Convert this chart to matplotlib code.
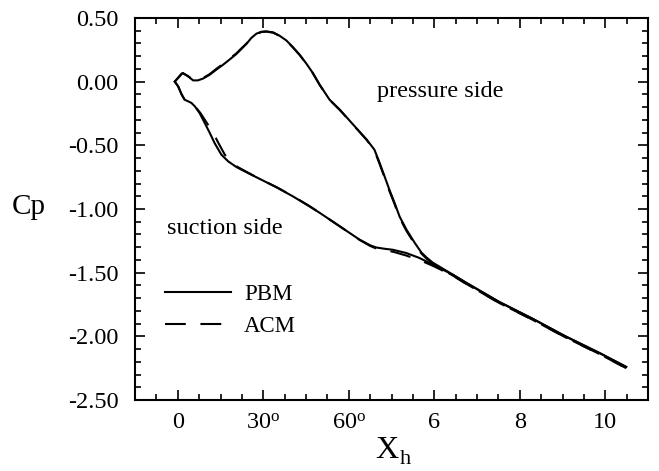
import matplotlib
matplotlib.use("Agg")
import matplotlib.pyplot as plt
from matplotlib.ticker import MultipleLocator, FixedLocator

# ---- data ----
pbm_pressure_x = [-0.07, 0.09, 0.12, 0.24, 0.36, 0.47, 0.59, 0.75, 0.90, 1.06, 1.21, 1.37,
                  1.49, 1.61, 1.72, 1.84, 1.96, 2.07, 2.23, 2.38, 2.54, 2.69, 2.85, 3.01,
                  3.16, 3.32, 3.55, 3.79, 4.02, 4.25, 4.42, 4.60, 4.72, 4.84, 4.95, 5.07,
                  5.19, 5.35, 5.54, 5.70, 5.82, 5.96, 6.43, 6.75, 7.52, 8.29, 9.07, 9.86, 10.49]
pbm_pressure_y = [0.00, 0.063, 0.068, 0.042, 0.010, 0.010, 0.024, 0.055, 0.094, 0.133, 0.173, 0.217,
                  0.257, 0.298, 0.343, 0.377, 0.392, 0.395, 0.387, 0.361, 0.324, 0.272, 0.212, 0.141,
                  0.068, -0.024, -0.141, -0.220, -0.306, -0.392, -0.455, -0.534, -0.636, -0.746, -0.848, -0.950,
                  -1.060, -1.162, -1.264, -1.342, -1.381, -1.420, -1.515, -1.58, -1.73, -1.86, -2.00, -2.13, -2.24]

pbm_suction_x = [-0.07, 0.01, 0.09, 0.16, 0.32, 0.40, 0.51, 0.63, 0.75, 0.86, 1.02, 1.18,
                 1.37, 1.61, 1.92, 2.31, 2.69, 3.08, 3.32, 3.79, 4.25, 4.50, 4.64, 4.85, 5.03, 5.34,
                 5.65, 5.96, 6.43, 6.75, 7.52, 8.29, 9.07, 9.86, 10.49]
pbm_suction_y = [0.00, -0.037, -0.100, -0.141, -0.167, -0.194, -0.246, -0.324, -0.403, -0.481, -0.573, -0.626,
                 -0.670, -0.712, -0.764, -0.830, -0.900, -0.979, -1.030, -1.136, -1.240, -1.285, -1.302, -1.313, -1.320, -1.345,
                 -1.384, -1.436, -1.515, -1.58, -1.73, -1.86, -2.00, -2.13, -2.24]

acm_pressure_x = pbm_pressure_x
acm_pressure_y = [0.00, 0.060, 0.066, 0.044, 0.014, 0.013, 0.028, 0.060, 0.100, 0.140, 0.180, 0.222,
                  0.262, 0.300, 0.343, 0.375, 0.390, 0.393, 0.385, 0.360, 0.323, 0.270, 0.210, 0.140,
                  0.066, -0.026, -0.143, -0.222, -0.308, -0.394, -0.458, -0.540, -0.645, -0.755, -0.858, -0.960,
                  -1.070, -1.172, -1.274, -1.350, -1.390, -1.428, -1.522, -1.588, -1.738, -1.868, -2.008, -2.138, -2.25]

acm_suction_x = [-0.07, 0.01, 0.09, 0.16, 0.32, 0.40, 0.53, 0.68, 0.83, 0.95, 1.10, 1.24,
                 1.40, 1.63, 1.92, 2.31, 2.69, 3.08, 3.32, 3.79, 4.25, 4.50, 4.64, 4.85, 5.03, 5.34,
                 5.65, 5.96, 6.43, 6.75, 7.52, 8.29, 9.07, 9.86, 10.49]
acm_suction_y = [0.00, -0.037, -0.100, -0.141, -0.167, -0.194, -0.246, -0.324, -0.403, -0.481, -0.573, -0.626,
                 -0.670, -0.712, -0.764, -0.828, -0.898, -0.977, -1.030, -1.136, -1.242, -1.290, -1.310, -1.325, -1.335, -1.365,
                 -1.400, -1.445, -1.522, -1.588, -1.738, -1.868, -2.008, -2.138, -2.25]

xtick_pos = [0, 2, 4, 6, 8, 10]
xtick_labels = ["0", r"30$^{\rm o}$", r"60$^{\rm o}$", "6", "8", "10"]
ytick_pos = [0.5, 0.0, -0.5, -1.0, -1.5, -2.0, -2.5]
ytick_labels = ["0.50", "0.00", "-0.50", "-1.00", "-1.50", "-2.00", "-2.50"]

# ---- figure ----
plt.rcParams['font.family'] = ['Liberation Serif', 'DejaVu Serif']
plt.rcParams['mathtext.fontset'] = 'custom'
plt.rcParams['mathtext.rm'] = 'Liberation Serif'
plt.rcParams['mathtext.it'] = 'Liberation Serif:italic'
plt.rcParams['mathtext.bf'] = 'Liberation Serif:bold'

fig = plt.figure(figsize=(6.59, 4.71), dpi=100)
ax = fig.add_axes([135/659, 1-400/471, (648-135)/659, (400-18)/471])

lw = 1.5
dash = (0, (10, 7))
ax.plot(pbm_pressure_x, pbm_pressure_y, color='black', lw=lw, label='PBM')
ax.plot(pbm_suction_x, pbm_suction_y, color='black', lw=lw)
ax.plot(acm_pressure_x, acm_pressure_y, color='black', lw=lw, ls=dash, label='ACM')
ax.plot(acm_suction_x, acm_suction_y, color='black', lw=lw, ls=dash)

ax.set_xlim(-1, 11)
ax.set_ylim(-2.5, 0.5)

ax.xaxis.set_major_locator(FixedLocator(xtick_pos))
ax.set_xticklabels(xtick_labels)
ax.yaxis.set_major_locator(FixedLocator(ytick_pos))
ax.set_yticklabels(ytick_labels)
ax.xaxis.set_minor_locator(MultipleLocator(0.5))
ax.yaxis.set_minor_locator(MultipleLocator(0.1))

ax.tick_params(which='both', direction='in', top=True, right=True, labelsize=17.5, width=1.2)
ax.tick_params(which='major', length=7)
ax.tick_params(which='minor', length=4)
ax.tick_params(axis='y', which='major', pad=12)
ax.tick_params(axis='x', which='major', pad=9)

for sp in ax.spines.values():
    sp.set_linewidth(1.5)

fig.text(29/659, 1-207/471, 'Cp', fontsize=21, ha='center', va='center')
fig.text(387/659, 1-450/471, 'X', fontsize=23, ha='center', va='center')
fig.text(405/659, 1-459/471, 'h', fontsize=16, ha='center', va='center')

ax.text(6.14, -0.08, 'pressure side', fontsize=17.5, ha='center', va='center')
ax.text(1.10, -1.15, 'suction side', fontsize=17.5, ha='center', va='center')

ax.legend(loc='upper left', bbox_to_anchor=(0.058, 0.305), frameon=False, fontsize=16.5,
          handlelength=2.9, handletextpad=0.55, labelspacing=0.5, borderpad=0, borderaxespad=0)

fig.savefig('out.png', dpi=100)
